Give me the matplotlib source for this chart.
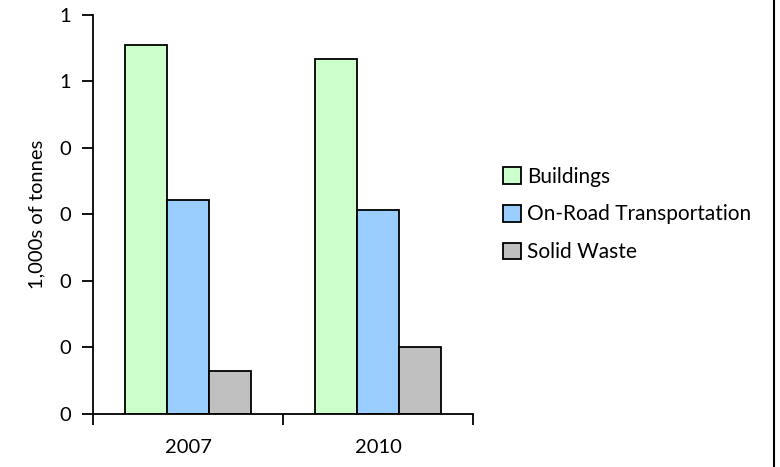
import matplotlib.pyplot as plt
import numpy as np
from matplotlib.lines import Line2D

plt.rcParams['font.family'] = ['Lato', 'DejaVu Sans']

years = ['2007', '2010']
series = ['Buildings', 'On-Road Transportation', 'Solid Waste']
buildings = [0.555, 0.534]
on_road = [0.322, 0.307]
solid_waste = [0.065, 0.101]
colors = ['#CCFFCC', '#99CCFF', '#C0C0C0']
yticks = [0, 0.1, 0.2, 0.3, 0.4, 0.5, 0.6]
ytick_labels = ['0', '0', '0', '0', '0', '1', '1']

fig = plt.figure(figsize=(7.8, 4.67), dpi=100)
ax = fig.add_axes([0.1192, 0.1135, 0.4872, 0.8544])

x = np.arange(len(years))
w = 0.22
for i, (vals, name) in enumerate(zip([buildings, on_road, solid_waste], series)):
    ax.bar(x + (i - 1) * w, vals, w, color=colors[i], edgecolor='black',
           linewidth=1.3, label=name, zorder=2)

ax.set_xlim(-0.5, 1.5)
ax.set_ylim(0, 0.6)
ax.set_yticks(yticks)
ax.set_yticklabels(ytick_labels, fontsize=14.5)
ax.set_xticks(x)
ax.set_xticklabels(years, fontsize=14.5)
ax.tick_params(axis='x', which='major', length=0, pad=18)
ax.set_xticks([-0.5, 0.5, 1.5], minor=True)
ax.tick_params(axis='x', which='minor', length=8, width=1.3, direction='out')
ax.tick_params(axis='y', length=8, width=1.3, direction='out', pad=8)
for s in ['top', 'right']:
    ax.spines[s].set_visible(False)
for s in ['left', 'bottom']:
    ax.spines[s].set_linewidth(1.3)

ax.set_ylabel('1,000s of tonnes', fontsize=14.5, labelpad=10)

ax.legend(loc='center left', bbox_to_anchor=(1.03, 0.5), frameon=False,
          fontsize=15, handlelength=0.85, handleheight=0.85, handletextpad=0.3,
          labelspacing=0.85)

fig.add_artist(Line2D([0.9923, 0.9923], [0, 1], color='black', linewidth=1.5,
                      transform=fig.transFigure))

fig.savefig('out.png', dpi=100)
